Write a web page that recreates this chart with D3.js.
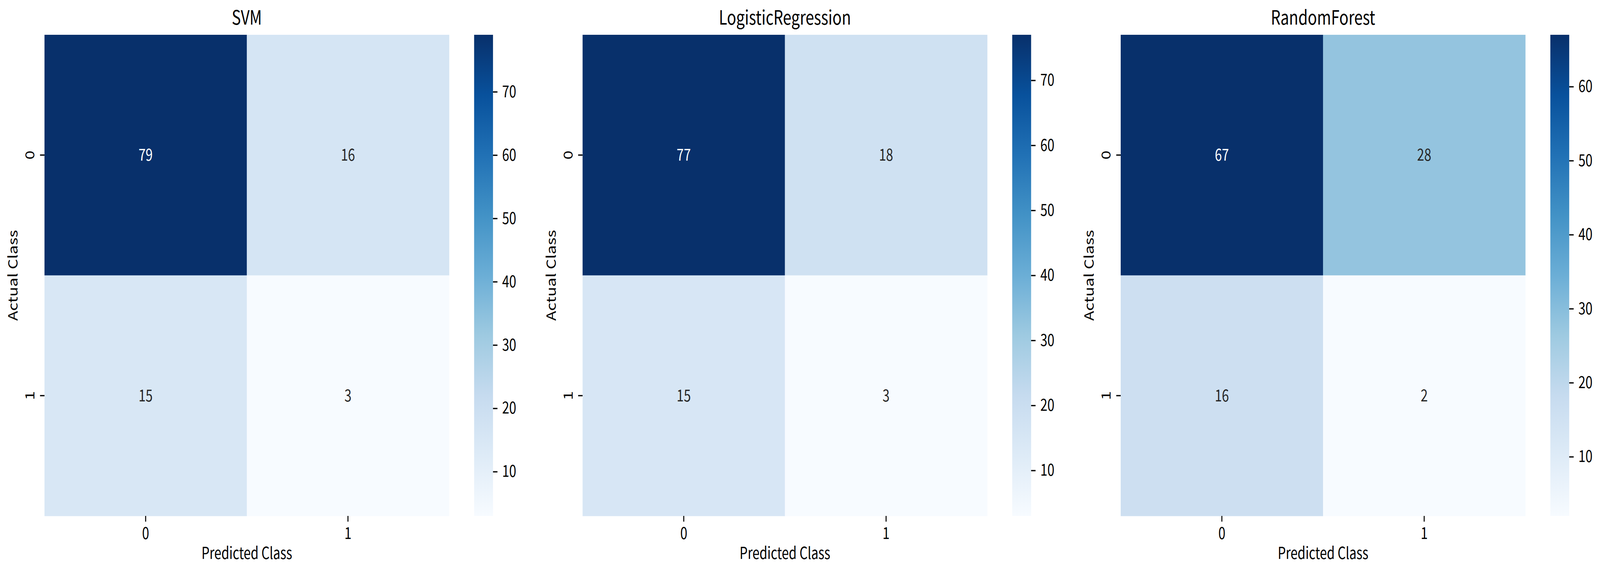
<!DOCTYPE html>
<html>
<head>
<meta charset="utf-8">
<script src="https://cdn.jsdelivr.net/npm/d3@7"></script>
<style>
  html, body { margin: 0; padding: 0; background: #fff; overflow: hidden; width: 100%; height: 100%; }
  #chart { display: block; width: 100vw; height: 100vh; }
  svg text { font-family: "Noto Sans CJK SC", "DejaVu Sans", sans-serif; fill: #000; }
</style>
</head>
<body>
<svg id="chart" viewBox="0 0 5251 1466" preserveAspectRatio="none"></svg>
<script>
// ---- data ----
const models = ["SVM", "LogisticRegression", "RandomForest"];
const classLabels = ["0", "1"];
const svmMatrix = [[79, 16], [15, 3]];
const lrMatrix  = [[77, 18], [15, 3]];
const rfMatrix  = [[67, 28], [16, 2]];
const svmTicks = [10, 20, 30, 40, 50, 60, 70];
const lrTicks  = [10, 20, 30, 40, 50, 60, 70];
const rfTicks  = [10, 20, 30, 40, 50, 60];
const xTitle = "Predicted Class";
const yTitle = "Actual Class";

// matplotlib "Blues" anchor colours
const bluesStops = ["#f7fbff", "#deebf7", "#c6dbef", "#9ecae1", "#6baed6",
                    "#4292c6", "#2171b5", "#08519c", "#08306b"];

// ---- layout (in viewBox units, 1 unit = 1 px of the 5251x1466 picture) ----
const panelLeft = [146, 1912, 3678];
const plotTop = 89, size = 1231, width = 1328;
const cbarGap = 1410, cbarW = 62;
const tickLen = 14.6, tickW = 3.3;
const fs = 41.7;

const svg = d3.select("#chart");
const defs = svg.append("defs");

const blues = d3.scaleLinear()
  .domain(bluesStops.map((_, i) => i / (bluesStops.length - 1)))
  .range(bluesStops)
  .interpolate(d3.interpolateRgb);

function luminance(c) {                      // same rule seaborn uses for annotation colour
  const rgb = d3.rgb(c);
  const f = v => { v /= 255; return v <= 0.03928 ? v / 12.92 : Math.pow((v + 0.055) / 1.055, 2.4); };
  return 0.2126 * f(rgb.r) + 0.7152 * f(rgb.g) + 0.0722 * f(rgb.b);
}

function drawPanel(i, name, matrix, ticks) {
  const x0 = panelLeft[i];
  const flat = matrix.flat();
  const vmin = d3.min(flat), vmax = d3.max(flat);
  const norm = d3.scaleLinear().domain([vmin, vmax]).range([0, 1]);

  const x = d3.scaleBand().domain(classLabels).range([0, width]);
  const y = d3.scaleBand().domain(classLabels).range([0, size]);

  const g = svg.append("g").attr("transform", `translate(${x0},${plotTop})`);

  const cells = [];
  matrix.forEach((row, r) => row.forEach((v, c) => cells.push({ r: classLabels[r], c: classLabels[c], v })));

  g.selectAll("rect.cell").data(cells).enter().append("rect")
    .attr("class", "cell")
    .attr("x", d => x(d.c)).attr("y", d => y(d.r))
    .attr("width", x.bandwidth() + 0.5).attr("height", y.bandwidth() + 0.5)
    .attr("fill", d => blues(norm(d.v)));

  g.selectAll("text.annot").data(cells).enter().append("text")
    .attr("class", "annot")
    .attr("x", d => x(d.c) + x.bandwidth() / 2)
    .attr("y", d => y(d.r) + y.bandwidth() / 2)
    .attr("dy", "0.35em")
    .attr("text-anchor", "middle")
    .style("font-size", fs + "px")
    .style("fill", d => luminance(blues(norm(d.v))) > 0.408 ? "#262626" : "#fff")
    .text(d => d.v);

  // x axis
  const xa = g.append("g").attr("transform", `translate(0,${size})`)
    .call(d3.axisBottom(x).tickSize(tickLen).tickPadding(15));
  xa.select(".domain").remove();
  xa.selectAll("line").attr("stroke", "#000").attr("stroke-width", tickW);
  xa.selectAll("text").style("font-size", fs + "px").attr("fill", "#000");

  // y axis, labels turned on their side
  const ya = g.append("g").call(d3.axisLeft(y).tickSize(tickLen));
  ya.select(".domain").remove();
  ya.selectAll("line").attr("stroke", "#000").attr("stroke-width", tickW);
  ya.selectAll("text")
    .attr("x", null).attr("dy", null)
    .attr("text-anchor", "middle")
    .attr("transform", "translate(-33,0) rotate(-90)")
    .style("font-size", fs + "px").attr("fill", "#000");

  // titles
  g.append("text").attr("x", width / 2).attr("y", 63 - plotTop)
    .attr("text-anchor", "middle").style("font-size", "50px").text(name);
  g.append("text").attr("x", width / 2).attr("y", 1430 - plotTop)
    .attr("text-anchor", "middle").style("font-size", fs + "px").text(xTitle);
  g.append("text").attr("transform", `translate(${58 - 146},${size / 2}) rotate(-90)`)
    .attr("text-anchor", "middle").style("font-size", fs + "px").text(yTitle);

  // colour bar
  const gid = "grad" + i;
  const grad = defs.append("linearGradient").attr("id", gid)
    .attr("x1", 0).attr("y1", 1).attr("x2", 0).attr("y2", 0);
  grad.selectAll("stop").data(bluesStops).enter().append("stop")
    .attr("offset", (d, k) => k / (bluesStops.length - 1))
    .attr("stop-color", d => d);

  const cy = d3.scaleLinear().domain([vmin, vmax]).range([size, 0]);
  const cb = g.append("g").attr("transform", `translate(${cbarGap},0)`);
  cb.append("rect").attr("width", cbarW).attr("height", size).attr("fill", `url(#${gid})`);
  const ca = cb.append("g").attr("transform", `translate(${cbarW},0)`)
    .call(d3.axisRight(cy).tickValues(ticks).tickSize(tickLen).tickPadding(15.5));
  ca.select(".domain").remove();
  ca.selectAll("line").attr("stroke", "#000").attr("stroke-width", tickW);
  ca.selectAll("text").style("font-size", fs + "px").attr("fill", "#000");
}

drawPanel(0, models[0], svmMatrix, svmTicks);
drawPanel(1, models[1], lrMatrix, lrTicks);
drawPanel(2, models[2], rfMatrix, rfTicks);
</script>
</body>
</html>
